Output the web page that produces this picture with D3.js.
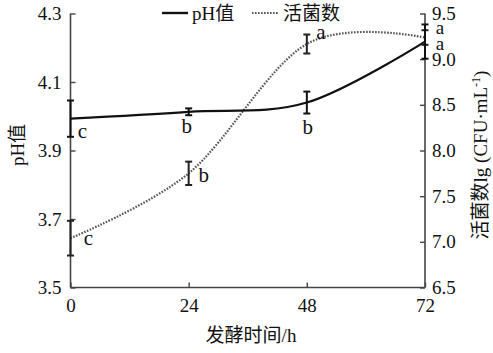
<!DOCTYPE html>
<html><head><meta charset="utf-8">
<script src="https://cdn.jsdelivr.net/npm/d3@7"></script>
<style>
body{margin:0;background:#fff;}
text{font-family:"Liberation Serif","Noto Sans CJK SC",serif;fill:#111;}
</style></head>
<body><svg id="c" width="493" height="353"></svg>
<script>
const hours = [0, 24, 48, 72];
const phValues = [3.993, 4.013, 4.040, 4.218];
const phErrors = [0.053, 0.010, 0.032, 0.050];
const phLetters = ["c", "b", "b", "a"];
const countValues = [7.04, 7.75, 9.166, 9.237];
const countErrors = [0.19, 0.128, 0.104, 0.08];
const countLetters = ["c", "b", "a", "a"];
const xTicks = [0, 24, 48, 72];
const phTicks = [3.5, 3.7, 3.9, 4.1, 4.3];
const countTicks = [6.5, 7.0, 7.5, 8.0, 8.5, 9.0, 9.5];

const svg = d3.select("#c");
const x = d3.scaleLinear().domain([0, 72]).range([70.5, 425]);
const yL = d3.scaleLinear().domain([3.5, 4.3]).range([287.5, 13.5]);
const yR = d3.scaleLinear().domain([6.5, 9.5]).range([287.5, 13.5]);
const axisColor = "#444";

// axes
const gx = svg.append("g").attr("transform", "translate(0,287.5)")
  .call(d3.axisBottom(x).tickValues(xTicks).tickSize(-5).tickPadding(11).tickFormat(d3.format("d")));
const gl = svg.append("g").attr("transform", "translate(70.5,0)")
  .call(d3.axisLeft(yL).tickValues(phTicks).tickSize(-5).tickPadding(9).tickFormat(d3.format(".1f")));
const gr = svg.append("g").attr("transform", "translate(425,0)")
  .call(d3.axisRight(yR).tickValues(countTicks).tickSize(-5).tickPadding(7).tickFormat(d3.format(".1f")));
[gx, gl, gr].forEach(g => {
  g.select(".domain").attr("stroke", axisColor).attr("stroke-width", 1.6);
  g.selectAll(".tick line").attr("stroke", axisColor).attr("stroke-width", 1.4);
  g.selectAll(".tick text").attr("font-size", 19).attr("font-family", "Liberation Serif").attr("fill", "#111");
});
gx.select(".domain").attr("d", "M70.5,0H425");
gl.select(".domain").attr("d", "M0,287.5V13.5");
gr.select(".domain").attr("d", "M0,287.5V13.5");

// lines
const curve = d3.curveCardinal.tension(0);
const phLine = d3.line().x((d, i) => x(hours[i])).y(d => yL(d)).curve(curve);
const countLine = d3.line().x((d, i) => x(hours[i])).y(d => yR(d)).curve(curve);
svg.append("path").attr("d", countLine(countValues)).attr("fill", "none")
  .attr("stroke", "#555").attr("stroke-width", 2.2).attr("stroke-dasharray", "1.6,1.4");
svg.append("path").attr("d", phLine(phValues)).attr("fill", "none")
  .attr("stroke", "#111").attr("stroke-width", 2.2);

// error bars
function errBars(vals, errs, y, color) {
  const g = svg.append("g").attr("stroke", color).attr("stroke-width", 2);
  vals.forEach((v, i) => {
    const cx = x(hours[i]);
    g.append("line").attr("x1", cx).attr("x2", cx).attr("y1", y(v - errs[i])).attr("y2", y(v + errs[i]));
    [v - errs[i], v + errs[i]].forEach(e => {
      g.append("line").attr("x1", cx - 3.5).attr("x2", cx + 3.5).attr("y1", y(e)).attr("y2", y(e));
    });
  });
}
errBars(countValues, countErrors, yR, "#222");
errBars(phValues, phErrors, yL, "#111");

// significance letters
const phLetterOffsets = [[12, 19], [-2, 21], [1, 31], [15, 8]];
const countLetterOffsets = [[18, 7], [15, 9], [14, -5], [15, -4]];
const phLetterSizes = [21, 21, 21, 19];
const countLetterSizes = [21, 21, 21, 19];
phLetters.forEach((t, i) => {
  svg.append("text").attr("x", x(hours[i]) + phLetterOffsets[i][0]).attr("y", yL(phValues[i]) + phLetterOffsets[i][1])
    .attr("text-anchor", "middle").attr("font-size", phLetterSizes[i]).text(t);
});
countLetters.forEach((t, i) => {
  svg.append("text").attr("x", x(hours[i]) + countLetterOffsets[i][0]).attr("y", yR(countValues[i]) + countLetterOffsets[i][1])
    .attr("text-anchor", "middle").attr("font-size", countLetterSizes[i]).text(t);
});

// axis titles
svg.append("text").attr("x", 251).attr("y", 342).attr("text-anchor", "middle").attr("font-size", 19).text("发酵时间/h");
svg.append("text").attr("transform", "translate(24,145) rotate(-90)").attr("text-anchor", "middle").attr("font-size", 19).text("pH值");
const rt = svg.append("text").attr("transform", "translate(487,155) rotate(-90)").attr("text-anchor", "middle").attr("font-size", 19);
rt.append("tspan").text("活菌数lg (CFU·mL");
rt.append("tspan").attr("font-size", 12).attr("dy", -7).text("-1");
rt.append("tspan").attr("dy", 7).text(")");

// legend
svg.append("line").attr("x1", 162).attr("x2", 188).attr("y1", 13).attr("y2", 13).attr("stroke", "#111").attr("stroke-width", 2.4);
svg.append("text").attr("x", 192).attr("y", 20).attr("font-size", 19).text("pH值");
svg.append("line").attr("x1", 252).attr("x2", 278).attr("y1", 13).attr("y2", 13).attr("stroke", "#555").attr("stroke-width", 2.2).attr("stroke-dasharray", "1.6,1.4");
svg.append("text").attr("x", 283).attr("y", 20).attr("font-size", 19).text("活菌数");
</script></body></html>
